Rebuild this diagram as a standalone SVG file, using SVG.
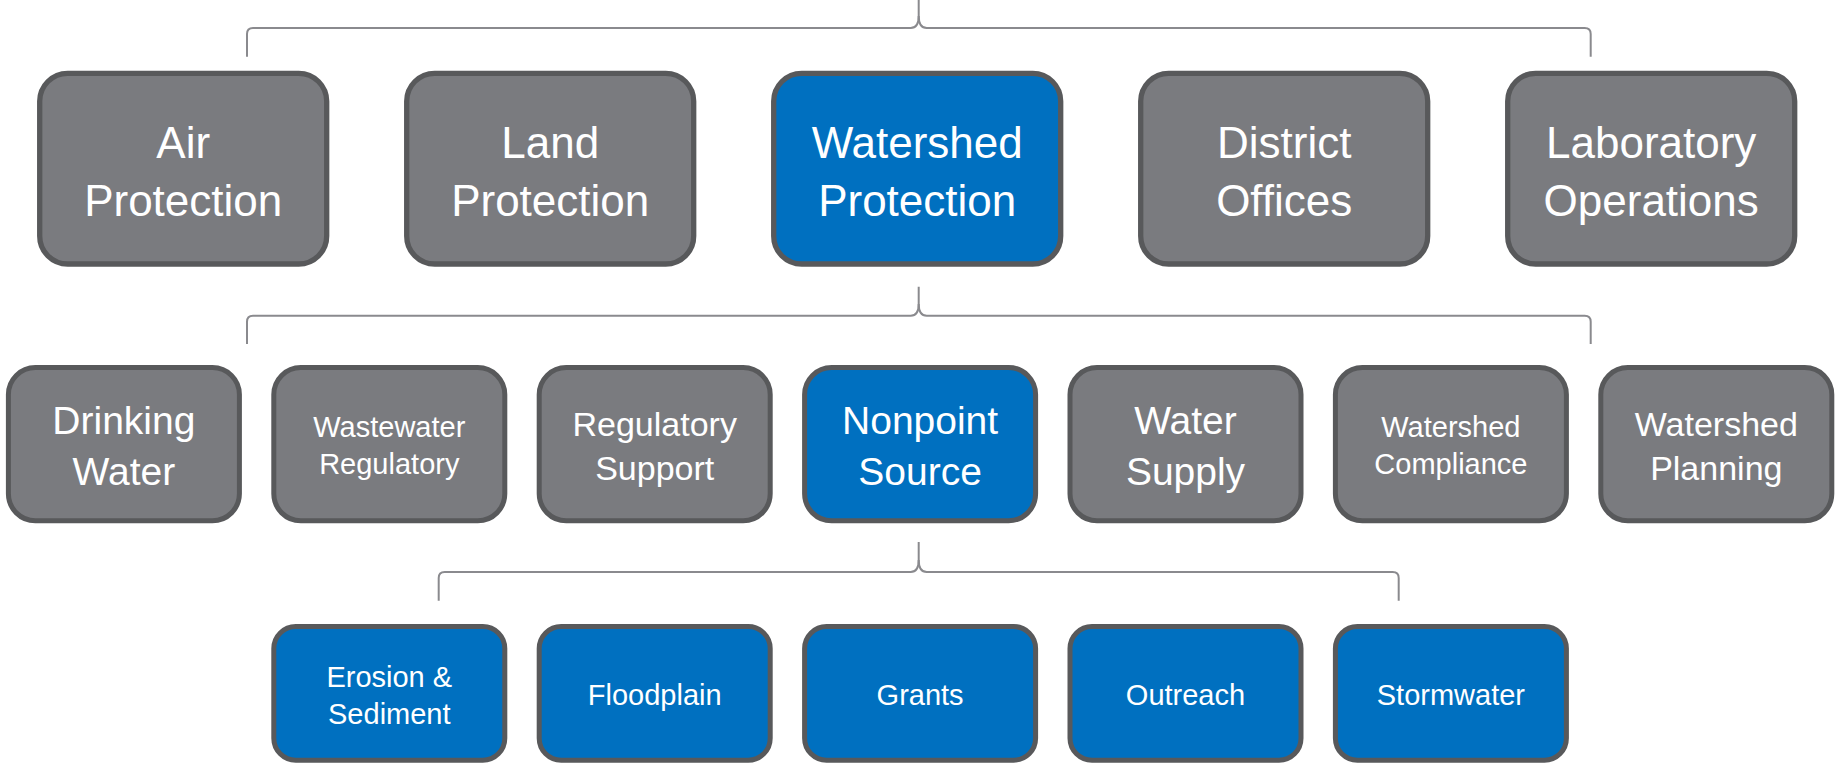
<svg xmlns="http://www.w3.org/2000/svg" width="1835" height="765" viewBox="0 0 1835 765">
<style>
.g{fill:#7a7b7f;stroke:#58595b}
.b{fill:#0070c0;stroke:#58595b}
.r1{stroke-width:5.3}
.r2,.r3{stroke-width:5}
text{font-family:"Liberation Sans",Arial,sans-serif;fill:#ffffff;text-anchor:middle}
.t1{font-size:44px}
.t2a{font-size:39px}
.t2b{font-size:34px}
.t2c{font-size:29px}
.t3{font-size:29px}
.c{fill:none;stroke:#8a8a8e;stroke-width:2}
</style>
<rect width="1835" height="765" fill="#ffffff"/>
<g id="connectors">
<path class="c" d="M918.7,0 V16 C918.7,24 916.5,28 910.7,28 H253 Q247,28 247,34 V56.7"/>
<path class="c" d="M918.7,16 C918.7,24 920.9,28 926.7,28 H1584.7 Q1590.7,28 1590.7,34 V56.7"/>
<path class="c" d="M918.7,286.7 V304 C918.7,312 916.5,315.7 910.7,315.7 H253 Q247,315.7 247,321.7 V344"/>
<path class="c" d="M918.7,304 C918.7,312 920.9,315.7 926.7,315.7 H1584.7 Q1590.7,315.7 1590.7,321.7 V344"/>
<path class="c" d="M918.7,542 V560 C918.7,568 916.5,572 910.7,572 H444.7 Q438.7,572 438.7,578 V600.7"/>
<path class="c" d="M918.7,560 C918.7,568 920.9,572 926.7,572 H1392.7 Q1398.7,572 1398.7,578 V600.7"/>
</g>
<g id="air-protection">
<rect class="g r1" x="39.7" y="73.3" width="287" height="190.7" rx="28"/>
<text class="t1" x="183.2" y="158.3">Air</text>
<text class="t1" x="183.2" y="216">Protection</text>
</g>
<g id="land-protection">
<rect class="g r1" x="406.7" y="73.3" width="287" height="190.7" rx="28"/>
<text class="t1" x="550.2" y="158.3">Land</text>
<text class="t1" x="550.2" y="216">Protection</text>
</g>
<g id="watershed-protection">
<rect class="b r1" x="773.7" y="73.3" width="287" height="190.7" rx="28"/>
<text class="t1" x="917.2" y="158.3">Watershed</text>
<text class="t1" x="917.2" y="216">Protection</text>
</g>
<g id="district-offices">
<rect class="g r1" x="1140.7" y="73.3" width="287" height="190.7" rx="28"/>
<text class="t1" x="1284.2" y="158.3">District</text>
<text class="t1" x="1284.2" y="216">Offices</text>
</g>
<g id="laboratory-operations">
<rect class="g r1" x="1507.7" y="73.3" width="287" height="190.7" rx="28"/>
<text class="t1" x="1651.2" y="158.3">Laboratory</text>
<text class="t1" x="1651.2" y="216">Operations</text>
</g>
<g id="drinking-water">
<rect class="g r2" x="8.4" y="367.5" width="231" height="153.3" rx="27"/>
<text class="t2a" x="123.9" y="433.5">Drinking</text>
<text class="t2a" x="123.9" y="485">Water</text>
</g>
<g id="wastewater-regulatory">
<rect class="g r2" x="273.8" y="367.5" width="231" height="153.3" rx="27"/>
<text class="t2c" x="389.3" y="437">Wastewater</text>
<text class="t2c" x="389.3" y="474">Regulatory</text>
</g>
<g id="regulatory-support">
<rect class="g r2" x="539.2" y="367.5" width="231" height="153.3" rx="27"/>
<text class="t2b" x="654.7" y="435.5">Regulatory</text>
<text class="t2b" x="654.7" y="479.5">Support</text>
</g>
<g id="nonpoint-source">
<rect class="b r2" x="804.6" y="367.5" width="231" height="153.3" rx="27"/>
<text class="t2a" x="920.1" y="433.5">Nonpoint</text>
<text class="t2a" x="920.1" y="485">Source</text>
</g>
<g id="water-supply">
<rect class="g r2" x="1070" y="367.5" width="231" height="153.3" rx="27"/>
<text class="t2a" x="1185.5" y="433.5">Water</text>
<text class="t2a" x="1185.5" y="485">Supply</text>
</g>
<g id="watershed-compliance">
<rect class="g r2" x="1335.4" y="367.5" width="231" height="153.3" rx="27"/>
<text class="t2c" x="1450.9" y="437">Watershed</text>
<text class="t2c" x="1450.9" y="474">Compliance</text>
</g>
<g id="watershed-planning">
<rect class="g r2" x="1600.8" y="367.5" width="231" height="153.3" rx="27"/>
<text class="t2b" x="1716.3" y="435.5">Watershed</text>
<text class="t2b" x="1716.3" y="479.5">Planning</text>
</g>
<g id="erosion-sediment">
<rect class="b r3" x="273.8" y="626.5" width="231" height="133.7" rx="22"/>
<text class="t3" x="389.3" y="686.5">Erosion &amp;</text>
<text class="t3" x="389.3" y="724">Sediment</text>
</g>
<g id="floodplain">
<rect class="b r3" x="539.2" y="626.5" width="231" height="133.7" rx="22"/>
<text class="t3" x="654.7" y="704.5">Floodplain</text>
</g>
<g id="grants">
<rect class="b r3" x="804.6" y="626.5" width="231" height="133.7" rx="22"/>
<text class="t3" x="920.1" y="704.5">Grants</text>
</g>
<g id="outreach">
<rect class="b r3" x="1070" y="626.5" width="231" height="133.7" rx="22"/>
<text class="t3" x="1185.5" y="704.5">Outreach</text>
</g>
<g id="stormwater">
<rect class="b r3" x="1335.4" y="626.5" width="231" height="133.7" rx="22"/>
<text class="t3" x="1450.9" y="704.5">Stormwater</text>
</g>
</svg>
